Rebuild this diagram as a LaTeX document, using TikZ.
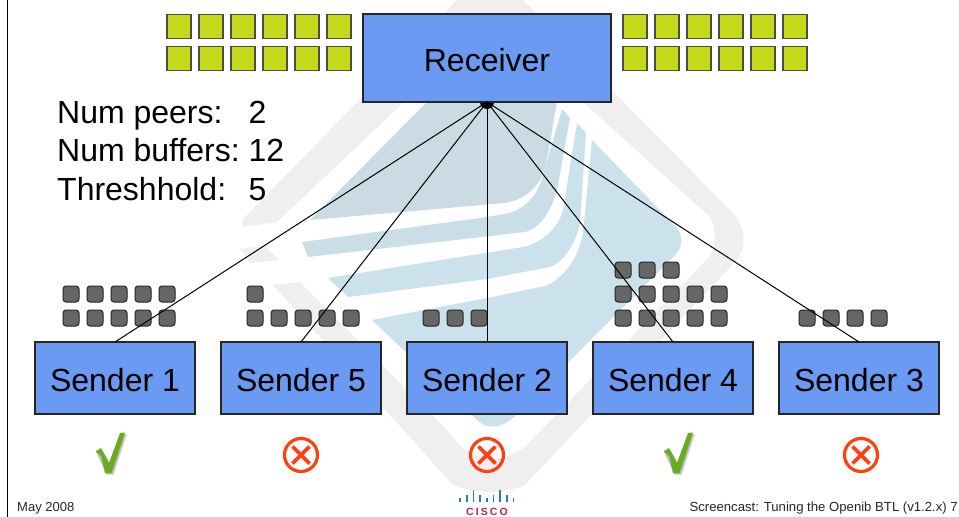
\documentclass[tikz,border=0pt]{standalone}
\usepackage{fontspec}
\setmainfont{Liberation Sans}
\usepackage{xcolor}
\usetikzlibrary{positioning}

\definecolor{boxblue}{HTML}{6B9AF2}
\definecolor{bufgreen}{HTML}{C6DA1A}
\definecolor{tokengray}{HTML}{666666}
\definecolor{okgreen}{HTML}{6AAB1F}
\definecolor{failred}{HTML}{FF4010}
\definecolor{wmgray}{HTML}{EFEFEF}
\definecolor{wmblue}{HTML}{CBE1EC}
\definecolor{wmbluetop}{HTML}{CADBE3}
\definecolor{ciscoteal}{HTML}{2B7F93}
\definecolor{ciscored}{HTML}{C0234B}

\tikzset{
  hostbox/.style={draw=black!85, line width=1.2pt, fill=boxblue, inner sep=0pt,
    outer sep=0pt, minimum height=72pt, minimum width=160pt,
    text height=27pt, text depth=0pt,
    font=\fontsize{32}{36}\selectfont},
  rxbuf/.style={draw=black!70, line width=1.2pt, fill=bufgreen, minimum size=24pt,
    inner sep=0pt},
  token/.style={draw=black!85, line width=1pt, fill=tokengray, rounded corners=3pt,
    minimum size=16pt, inner sep=0pt},
  okmark/.pic={
    \fill[black, opacity=.12] (97.5,454) -- (103,450.5) -- (111,465) -- (122,435) -- (127,435)
      -- (114,475) -- (107,475) -- cycle;
    \fill[black, opacity=.16] (96.5,453) -- (102,449.5) -- (110,464) -- (121,434) -- (126,434)
      -- (113,474) -- (106,474) -- cycle;
    \fill[okgreen] (95.5,451.5) -- (101,448) -- (109,463) -- (120,433) -- (125,432.5)
      -- (111.5,473) -- (105,473) -- (101.5,456.5) -- cycle;
  },
  failmark/.pic={
    \draw[failred, line width=3.2pt] (0,0) circle (16.5);
    \draw[failred, line width=3.6pt] (-8.5,-8.5) -- (8.5,8.5) (-8.5,8.5) -- (8.5,-8.5);
  },
  link/.style={draw=black, line width=1pt}
}

\begin{document}
\begin{tikzpicture}[x=1pt, y=-1pt]
  \useasboundingbox (0,0) rectangle (959,517);

  \fill[wmgray] (242,227) -- (243,219) -- (457,0) -- (523,0) -- (731,211)
    .. controls (747,228) and (747,248) .. (735,262) -- (525,485)
    .. controls (505,494) and (470,494) .. (452,484) -- (273,285) -- (300,282) -- (447,430)
    .. controls (470,465) and (505,465) .. (527,445) -- (708,258)
    .. controls (716,250) and (717,228) .. (710,217) -- (595,113) -- (491,20) -- (277,222) -- cycle;
  \fill[wmgray] (240,249) -- (265,246) -- (279,260) -- (250,263) -- cycle;
  \fill[wmbluetop] (310,220) -- (427,102) -- (557,102) .. controls (550,140) and (548,165) .. (540,180)
    .. controls (530,195) and (520,200) .. (505,203) -- cycle;
  \fill[wmbluetop!50!wmblue] (302,242) -- (480,218) -- (505,214) .. controls (525,210) and (538,195) .. (543,175)
    -- (562,109) -- (570,118) -- (558,185) .. controls (552,212) and (540,228) .. (525,232)
    -- (308,257) -- cycle;
  \fill[wmblue] (328,278) -- (523,247) .. controls (540,243) and (558,230) .. (563,210)
    -- (577,123) -- (586,133) -- (580,223) .. controls (577,240) and (565,262) .. (550,267)
    -- (487,279) -- (348,297) -- cycle;
  \fill[wmblue] (372,320) -- (487,298) -- (545,286) .. controls (562,280) and (578,260) .. (583,233)
    -- (592,140) -- (677,228) .. controls (683,236) and (683,248) .. (675,255) -- (515,416)
    .. controls (505,426) and (490,432) .. (477,420) -- cycle;

  \draw[black, line width=1.5pt] (7.5,0) -- (7.5,517);

  \node[circle, fill=black, minimum size=14pt, inner sep=0pt] (hub) at (487,102) {};
  \node[hostbox, minimum width=248pt, minimum height=88pt] (receiver) at (487,58) {Receiver};

  \node[hostbox] (sender1) at (115,378) {Sender 1};
  \node[hostbox, right=26pt of sender1] (sender5) {Sender 5};
  \node[hostbox, right=26pt of sender5] (sender2) {Sender 2};
  \node[hostbox, right=26pt of sender2] (sender4) {Sender 4};
  \node[hostbox, right=26pt of sender4] (sender3) {Sender 3};

  \foreach \y in {26.5,58.5}
    \foreach \x in {179,211,243,275,307,339,635,667,699,731,763,795}
      \node[rxbuf] (buf-\x-\y) at (\x,\y) {};

  \foreach \x/\y in {71/294,95/294,119/294,143/294,167/294,71/318,95/318,119/318,143/318,167/318,
      255/294,255/318,279/318,303/318,327/318,351/318,
      431/318,455/318,479/318,
      623/270,647/270,671/270,623/294,647/294,671/294,695/294,719/294,
      623/318,647/318,671/318,695/318,719/318,
      807/318,831/318,855/318,879/318}
    \node[token] (token-\x-\y) at (\x,\y) {};

  \draw[link] (hub.center) -- (sender1.north);
  \draw[link] (hub.center) -- (sender5.north);
  \draw[link] (hub.center) -- (sender2.north);
  \draw[link] (hub.center) -- (sender4.north);
  \draw[link] (hub.center) -- (sender3.north);

  \node[anchor=north west, inner sep=0pt, font=\fontsize{32}{38.5}\selectfont] (params) at (57,96)
    {\begin{tabular}{@{}l@{\ }l@{}}Num peers: & 2\\ Num buffers: & 12\\ Threshhold: & 5\end{tabular}};

  \pic at (0,0) {okmark};
  \pic at (568,0) {okmark};
  \pic at (301,455) {failmark};
  \pic at (487,455) {failmark};
  \pic at (861,455) {failmark};

  \foreach \x/\h in {460/4,466.7/7,473.4/12,480.1/7,486.8/4,493.5/7,500.2/12,506.9/7,513.6/4}
    \draw[ciscoteal, line width=1.6pt] (\x,501.5) -- ++(0,-\h);
  \node[inner sep=0pt, text=ciscored, font=\fontsize{10.5}{11}\selectfont\bfseries\addfontfeature{LetterSpace=20}] (cisco) at (487,511.5) {CISCO};

  \node[anchor=west, inner sep=0pt, font=\fontsize{13}{15}\selectfont, text=black!85] (date) at (17,508) {May 2008};
  \node[anchor=east, inner sep=0pt, font=\fontsize{13.15}{15}\selectfont, text=black!85] (footer) at (958,508) {Screencast: Tuning the Openib BTL (v1.2.x) 7};
\end{tikzpicture}
\end{document}
